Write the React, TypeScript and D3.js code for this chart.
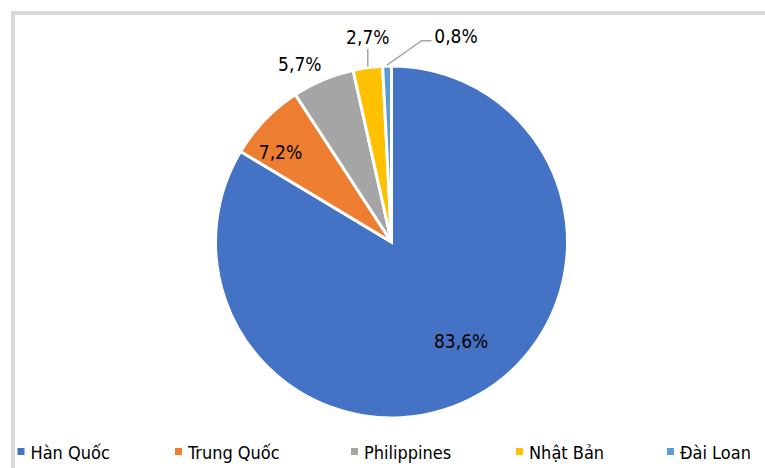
import React from "react";
import * as d3 from "d3";

const categories = ["Hàn Quốc", "Trung Quốc", "Philippines", "Nhật Bản", "Đài Loan"];
const values = [83.6, 7.2, 5.7, 2.7, 0.8];
const labels = ["83,6%", "7,2%", "5,7%", "2,7%", "0,8%"];
const colors = ["#4472C4", "#ED7D31", "#A5A5A5", "#FFC000", "#5B9BD5"];

const W = 765, H = 468;
const cx = 391.5, cy = 242, R = 176;
const FONT = "'DejaVu Sans Condensed', 'Liberation Sans Narrow', sans-serif";

// label placement: radius and small nudges (best-fit style)
const labelR = [121, 143, 200, 206, 208];
const labelNudge: [number, number][] = [[10, -6], [-8, 9], [-14, 6], [0, 0], [0, 0]];
const legendX = [17.5, 175, 351, 516, 667];

export default function App() {
  const pie = d3.pie<number>().value((d) => d).sort(null);
  const arcs = pie(values);
  const arc = d3.arc<d3.PieArcDatum<number>>().innerRadius(0).outerRadius(R);

  return (
    <svg width={W} height={H} style={{ position: "absolute", left: 0, top: 0, background: "#fff" }}>
      <rect x={13} y={13} width={W + 20} height={H + 20} fill="#fff" stroke="#D9D9D9" strokeWidth={4} />
      <g transform={`translate(${cx},${cy})`}>
        {arcs.map((a, i) => (
          <path key={i} d={arc(a) || ""} fill={colors[i]} stroke="#fff" strokeWidth={3} strokeLinejoin="miter" />
        ))}
        {arcs.map((a, i) => {
          const mid = (a.startAngle + a.endAngle) / 2;
          const r = labelR[i];
          let x = Math.sin(mid) * r + labelNudge[i][0];
          let y = -Math.cos(mid) * r + labelNudge[i][1];
          const ex = Math.sin(mid) * R, ey = -Math.cos(mid) * R;
          let leader: string | null = null;
          if (i === 3) {
            x = ex; y = -205;
            leader = `M${ex},${ey - 1}L${ex},${y + 12}`;
          }
          if (i === 4) {
            x = 64.5; y = -206;
            leader = `M${ex},${ey - 1}L${x - 34.5},${y + 4.7}L${x - 24.5},${y + 4.7}`;
          }
          return (
            <g key={"l" + i}>
              {leader && <path d={leader} fill="none" stroke="#A6A6A6" strokeWidth={1.5} />}
              <text x={x} y={y} textAnchor="middle" dominantBaseline="central" fontFamily={FONT} fontSize={19} fill="#000">
                {labels[i]}
              </text>
            </g>
          );
        })}
      </g>
      <g>
        {categories.map((c, i) => (
          <g key={"lg" + i}>
            <rect x={legendX[i]} y={448} width={7} height={7} fill={colors[i]} />
            <text x={legendX[i] + 13} y={452} dominantBaseline="central" fontFamily={FONT} fontSize={18} fill="#000">
              {c}
            </text>
          </g>
        ))}
      </g>
    </svg>
  );
}
